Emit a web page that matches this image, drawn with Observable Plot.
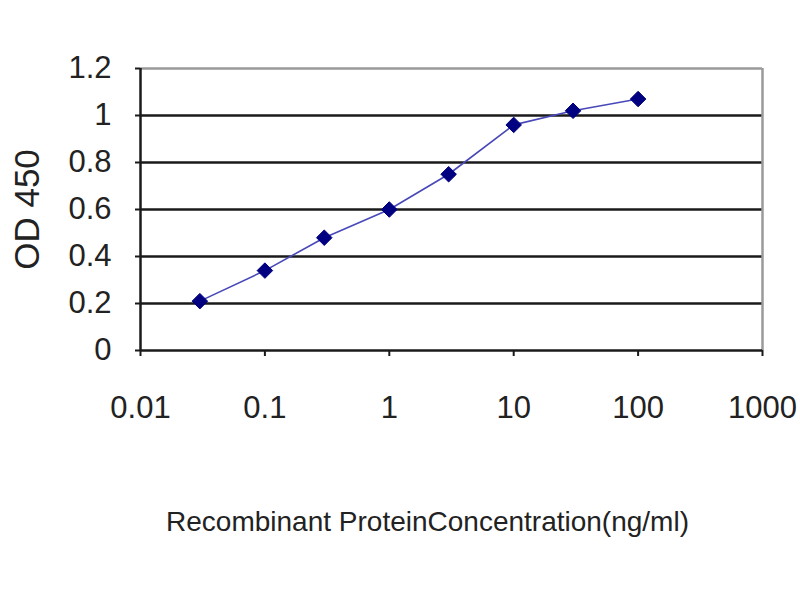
<!DOCTYPE html>
<html><head><meta charset="utf-8">
<script src="https://cdn.jsdelivr.net/npm/d3@7"></script>
<script src="https://cdn.jsdelivr.net/npm/@observablehq/plot@0.6"></script>
<style>body{margin:0;background:#fff}</style>
</head><body><div id="chart"></div>
<script>
const concentrations = [0.03, 0.1, 0.3, 1, 3, 10, 30, 100];
const od450 = [0.21, 0.34, 0.48, 0.60, 0.75, 0.96, 1.02, 1.07];
const xTicks = [0.01, 0.1, 1, 10, 100, 1000];
const xTickLabels = ["0.01", "0.1", "1", "10", "100", "1000"];
const yTicks = [0, 0.2, 0.4, 0.6, 0.8, 1, 1.2];
const yTickLabels = ["0", "0.2", "0.4", "0.6", "0.8", "1", "1.2"];
const gridValues = [0.2, 0.4, 0.6, 0.8, 1];
const xTitle = "Recombinant ProteinConcentration(ng/ml)";
const yTitle = "OD 450";

const data = concentrations.map((c, i) => ({c, od: od450[i]}));
const font = "'Liberation Sans', Arial, sans-serif";

const chart = Plot.plot({
  width: 800,
  height: 600,
  marginLeft: 140,
  marginRight: 38,
  marginTop: 68,
  marginBottom: 250,
  style: {fontFamily: font, background: "#fff", color: "#222"},
  x: {type: "log", domain: [0.01, 1000]},
  y: {domain: [0, 1.2]},
  marks: [
    Plot.ruleY(gridValues, {stroke: "#1a1a1a", strokeWidth: 2.5}),
    Plot.ruleY([1.2], {stroke: "#9a9a9a", strokeWidth: 2.5}),
    Plot.ruleX([1000], {stroke: "#9a9a9a", strokeWidth: 2.5}),
    Plot.ruleX([0.01], {stroke: "#1a1a1a", strokeWidth: 2.5}),
    Plot.ruleY([0], {stroke: "#1a1a1a", strokeWidth: 2.5}),
    Plot.axisX(xTicks, {
      tickFormat: d => xTickLabels[xTicks.indexOf(d)],
      tickSize: 6, tickPadding: 39, fontSize: 31, label: null,
      stroke: "#1a1a1a", strokeWidth: 2, fill: "#222"
    }),
    Plot.axisY(yTicks, {
      tickFormat: d => yTickLabels[yTicks.indexOf(d)],
      tickSize: 5, tickPadding: 24, fontSize: 31, label: null,
      stroke: "#1a1a1a", strokeWidth: 2, fill: "#222"
    }),
    Plot.line(data, {x: "c", y: "od", stroke: "#4848b8", strokeWidth: 1.6}),
    Plot.dot(data, {x: "c", y: "od", symbol: "diamond2", r: 7, fill: "#000080", stroke: "#000080", strokeWidth: 1}),
    Plot.text([xTitle], {frameAnchor: "bottom", dx: -24, dy: 172, fontSize: 28, fill: "#222", lineAnchor: "middle", textAnchor: "middle"}),
    Plot.text([yTitle], {frameAnchor: "left", dx: -113, rotate: -90, fontSize: 35, fill: "#222", lineAnchor: "middle", textAnchor: "middle"})
  ]
});
document.getElementById("chart").append(chart);
</script>
</body></html>
